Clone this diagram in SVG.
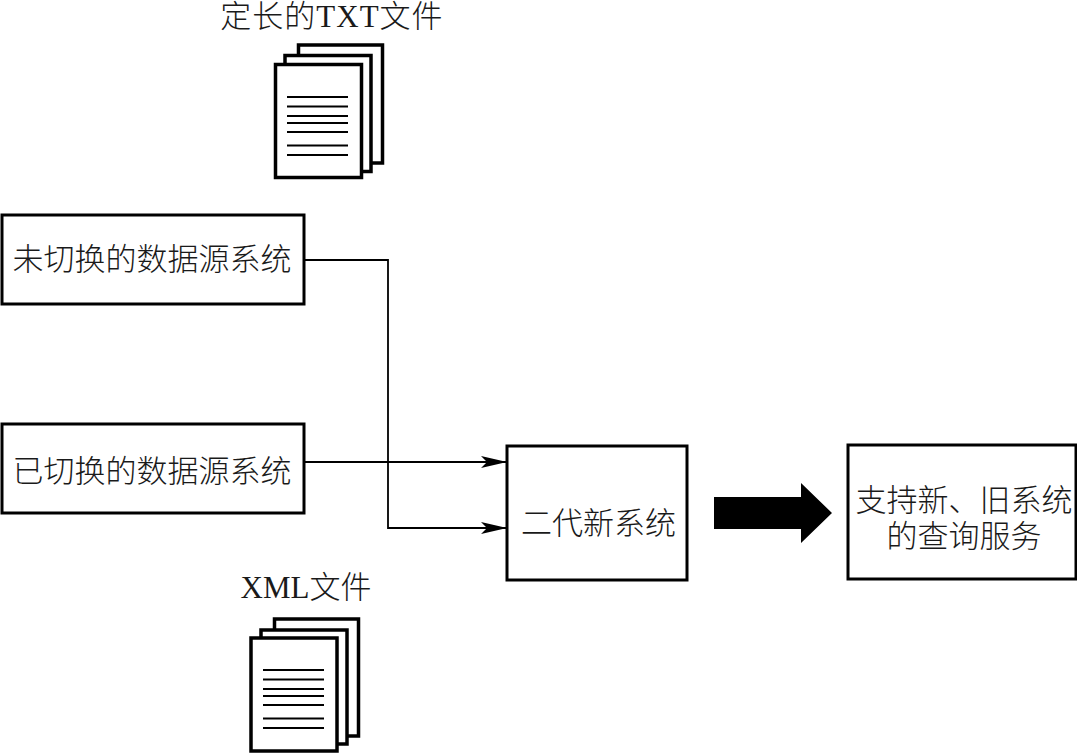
<svg xmlns="http://www.w3.org/2000/svg" width="1077" height="753" viewBox="0 0 1077 753">
<style>
text{font-family:"Liberation Serif","Noto Sans CJK SC",serif;font-size:31px;fill:#1a1a1a;text-anchor:middle;font-weight:300}
.box{fill:#fff;stroke:#000;stroke-width:3}
.sheet{fill:#fff;stroke:#000;stroke-width:3.5}
.rule{stroke:#000;stroke-width:2;fill:none}
.wire{stroke:#000;stroke-width:1.8;fill:none;marker-end:url(#head)}
</style>
<defs>
<marker id="head" markerUnits="userSpaceOnUse" markerWidth="27" markerHeight="12" refX="26" refY="6" orient="auto">
<path d="M0 0L26 6L0 12L6 6Z" fill="#000"/>
</marker>
<path id="lines" class="rule" d="M0 0H61M0 9.500H61M0 19H61M0 26H61M0 35H61M0 48.500H61M0 58H61"/>
</defs>
<rect width="1077" height="753" fill="#fff"/>
<g id="connectors">
<path class="wire" d="M304 260H388V528H507"/>
<path class="wire" d="M304 462H507"/>
</g>
<g id="txt-files">
<text x="332" y="27" letter-spacing="1">定长的TXT文件</text>
<rect class="sheet" x="298.500" y="45" width="84" height="118"/>
<rect class="sheet" x="285" y="55.500" width="86" height="116"/>
<rect class="sheet" x="275.500" y="64.500" width="86" height="113"/>
<use href="#lines" x="287" y="97"/>
</g>
<g id="unswitched-source">
<rect class="box" x="2" y="215" width="302" height="89"/>
<text x="152" y="270">未切换的数据源系统</text>
</g>
<g id="switched-source">
<rect class="box" x="2" y="424" width="302" height="89"/>
<text x="152" y="482">已切换的数据源系统</text>
</g>
<g id="new-system">
<rect class="box" x="507" y="446" width="180" height="134"/>
<text x="598.500" y="534">二代新系统</text>
</g>
<g id="query-service">
<rect class="box" x="848" y="445" width="228" height="134"/>
<text x="964" y="511">支持新、旧系统</text>
<text x="964" y="547">的查询服务</text>
</g>
<g id="result-arrow">
<path d="M714 497H801V483L832 513L801 543V529H714Z" fill="#000"/>
</g>
<g id="xml-files">
<text x="306" y="598">XML文件</text>
<rect class="sheet" x="274.500" y="619" width="84" height="117"/>
<rect class="sheet" x="261" y="630" width="86" height="114"/>
<rect class="sheet" x="251" y="638" width="86" height="113"/>
<use href="#lines" x="263" y="670"/>
</g>
</svg>
